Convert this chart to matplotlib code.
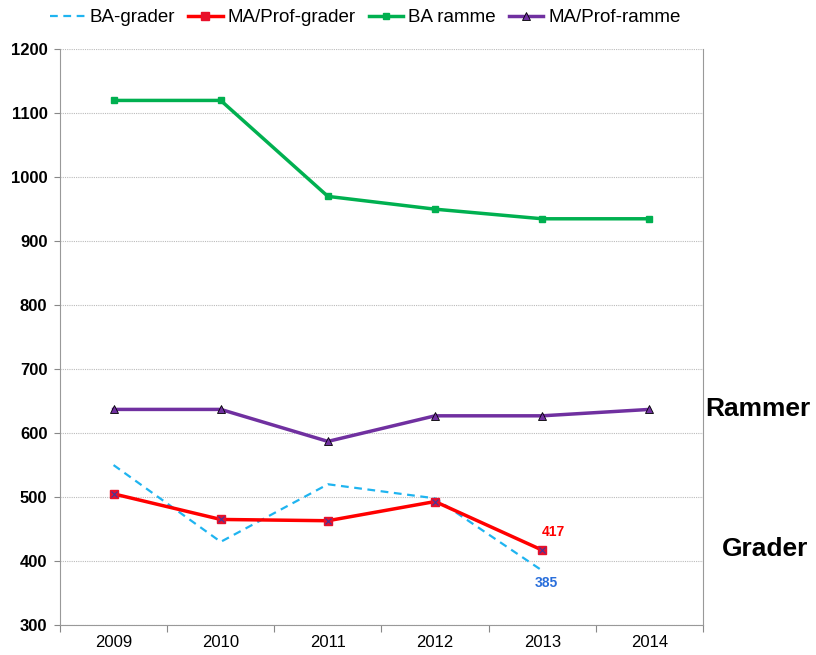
import numpy as np
import matplotlib.pyplot as plt

plt.rcParams['font.family'] = ['Liberation Sans', 'DejaVu Sans']

years = ["2009", "2010", "2011", "2012", "2013", "2014"]
ba_grader = [550, 430, 520, 498, 385]
ma_grader = [505, 465, 463, 493, 417]
ba_ramme = [1120, 1120, 970, 950, 935, 935]
ma_ramme = [637, 637, 587, 627, 627, 637]

x = np.arange(len(years))

fig = plt.figure(figsize=(8.16, 6.55), dpi=100)
ax = fig.add_axes([0.0735, 0.0458, 0.788, 0.879])

ax.plot(x[:len(ba_grader)], ba_grader, color="#1fb4f0", lw=1.6, ls=(0, (3.5, 2.5)),
        label="BA-grader")
ax.plot(x[:len(ma_grader)], ma_grader, color="#ff0000", lw=2.5, marker="s", ms=6,
        mfc="#e8102a", mec="#e8102a", label="MA/Prof-grader")
ax.plot(x[:len(ma_grader)], ma_grader, ls="none", marker="x", ms=5, mew=0.8,
        color="#3a3aa0")
ax.plot(x, ba_ramme, color="#00b050", lw=2.5, marker="s", ms=4,
        label="BA ramme")
ax.plot(x, ma_ramme, color="#7030a0", lw=2.5, marker="^", ms=6, mec="black",
        mew=0.6, label="MA/Prof-ramme")

ax.text(4.0, ma_grader[4] + 18, str(ma_grader[4]), color="#ff0000",
        fontsize=10, fontweight="bold", ha="left", va="bottom")
ax.text(3.93, ba_grader[4] - 8, str(ba_grader[4]), color="#2a6fdb",
        fontsize=10, fontweight="bold", ha="left", va="top")

ax.set_xlim(-0.5, len(years) - 0.5)
ax.set_ylim(300, 1200)
ax.set_yticks(np.arange(300, 1201, 100))
ax.tick_params(axis="y", labelsize=12, length=4, color="#888888", pad=5)
for lbl in ax.get_yticklabels():
    lbl.set_fontweight("bold")

ax.set_xticks(np.arange(-0.5, len(years), 1.0))
ax.set_xticklabels([])
ax.set_xticks(x, minor=True)
ax.set_xticklabels(years, minor=True, fontsize=12)
ax.tick_params(axis="x", which="major", length=5, color="#888888")
ax.tick_params(axis="x", which="minor", length=0, pad=7)

ax.grid(axis="y", ls=(0, (1, 1)), color="#bbbbbb", lw=0.8)
ax.set_axisbelow(True)
for side in ["left", "bottom", "right"]:
    ax.spines[side].set_color("#999999")
ax.spines["top"].set_visible(False)

ax.legend(loc="lower left", bbox_to_anchor=(-0.033, 1.02), ncol=4, frameon=False,
          fontsize=13.5, handlelength=1.85, columnspacing=0.7, handletextpad=0.25,
          borderaxespad=0.2)

fig.text(0.993, 0.375, "Rammer", fontsize=19, fontweight="bold", ha="right", va="center")
fig.text(0.99, 0.162, "Grader", fontsize=19, fontweight="bold", ha="right", va="center")

fig.savefig("out.png", dpi=100)
